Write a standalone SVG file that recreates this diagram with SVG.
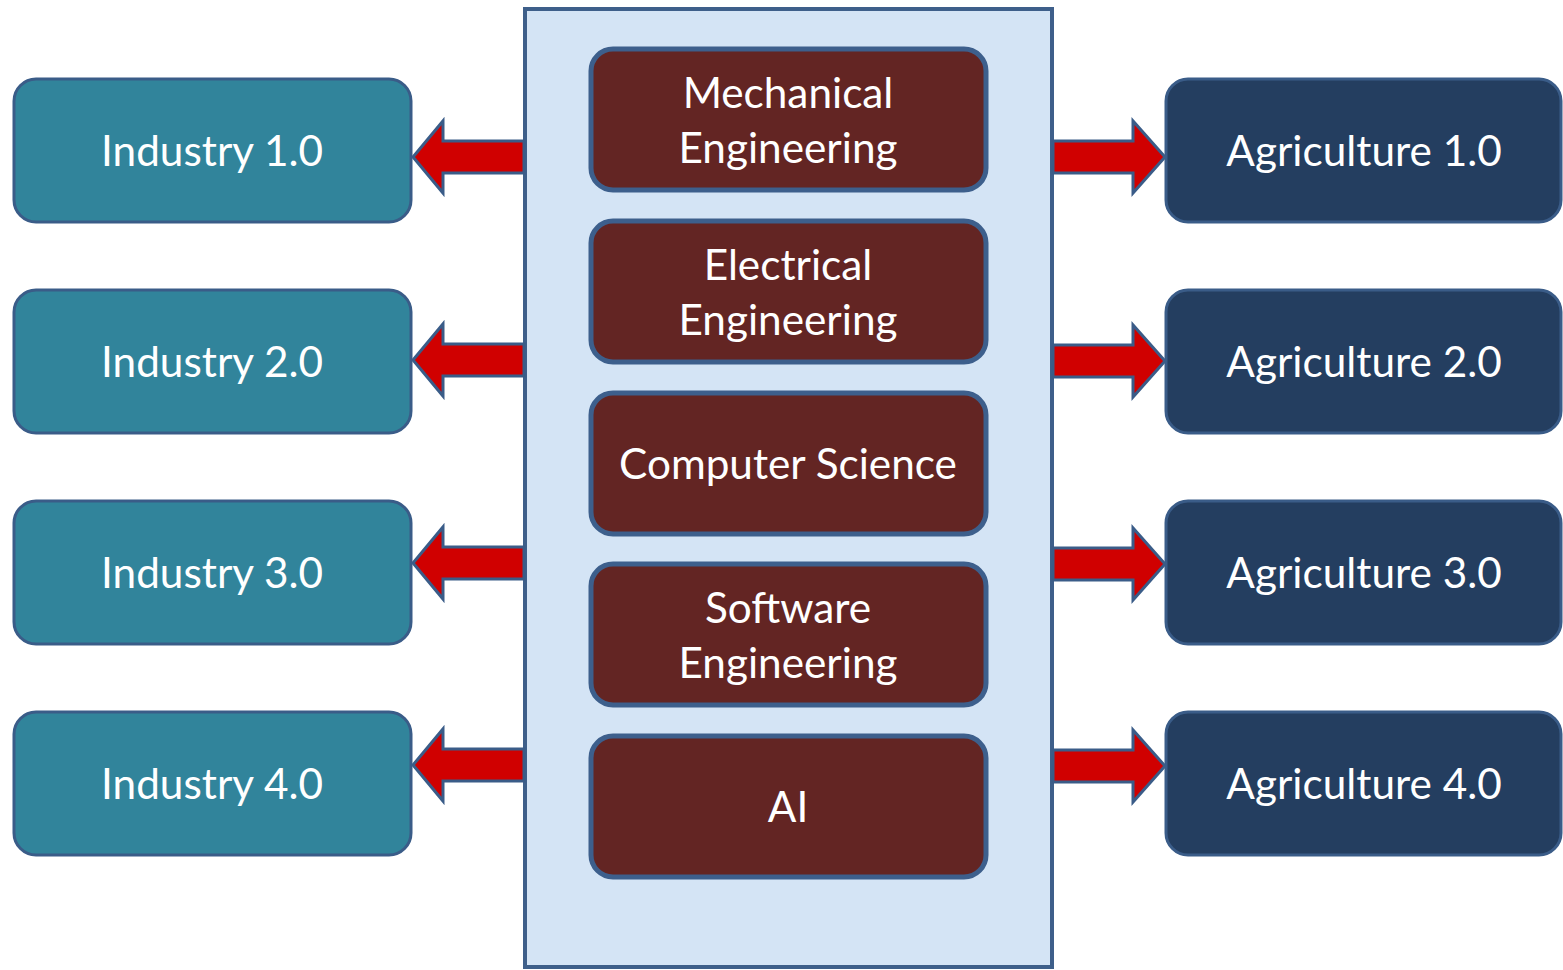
<svg xmlns="http://www.w3.org/2000/svg" width="1563" height="970" viewBox="0 0 1563 970">
<style>
.ind{fill:#31849b;stroke:#3a5c88;stroke-width:3}
.agr{fill:#243e60;stroke:#3a5c88;stroke-width:3}
.ctr{fill:#632523;stroke:#3d5f8c;stroke-width:5}
.box{fill:#d4e4f5;stroke:#3e5f8a;stroke-width:4}
.arr{fill:#d00000;stroke:#3a5c88;stroke-width:3;stroke-linejoin:miter}
text{font-family:Lato,"Liberation Sans",sans-serif;font-size:42.3px;fill:#ffffff;text-anchor:middle}
</style>
<rect width="1563" height="970" fill="#ffffff"/>
<g id="center-box"><rect class="box" x="525" y="9" width="527" height="958"/></g>
<g id="connectors">
<path class="arr" d="M524,141 L443,141 L443,121 L413,157 L443,193 L443,173 L524,173 Z"/>
<path class="arr" d="M524,344 L443,344 L443,324 L413,360 L443,396 L443,376 L524,376 Z"/>
<path class="arr" d="M524,547 L443,547 L443,527 L413,563 L443,599 L443,579 L524,579 Z"/>
<path class="arr" d="M524,749 L443,749 L443,729 L413,765 L443,801 L443,781 L524,781 Z"/>
<path class="arr" d="M1053,141 L1133,141 L1133,121 L1165,157 L1133,193 L1133,173 L1053,173 Z"/>
<path class="arr" d="M1053,345 L1133,345 L1133,325 L1165,361 L1133,397 L1133,377 L1053,377 Z"/>
<path class="arr" d="M1053,548 L1133,548 L1133,528 L1165,564 L1133,600 L1133,580 L1053,580 Z"/>
<path class="arr" d="M1053,750 L1133,750 L1133,730 L1165,766 L1133,802 L1133,782 L1053,782 Z"/>
</g>
<g id="industry1"><rect class="ind" x="14" y="79" width="397" height="143" rx="22"/><text x="212" y="166">Industry 1.0</text></g>
<g id="industry2"><rect class="ind" x="14" y="290" width="397" height="143" rx="22"/><text x="212" y="377">Industry 2.0</text></g>
<g id="industry3"><rect class="ind" x="14" y="501" width="397" height="143" rx="22"/><text x="212" y="588">Industry 3.0</text></g>
<g id="industry4"><rect class="ind" x="14" y="712" width="397" height="143" rx="22"/><text x="212" y="799">Industry 4.0</text></g>
<g id="agriculture1"><rect class="agr" x="1166" y="79" width="395" height="143" rx="22"/><text x="1364" y="166">Agriculture 1.0</text></g>
<g id="agriculture2"><rect class="agr" x="1166" y="290" width="395" height="143" rx="22"/><text x="1364" y="377">Agriculture 2.0</text></g>
<g id="agriculture3"><rect class="agr" x="1166" y="501" width="395" height="143" rx="22"/><text x="1364" y="588">Agriculture 3.0</text></g>
<g id="agriculture4"><rect class="agr" x="1166" y="712" width="395" height="143" rx="22"/><text x="1364" y="799">Agriculture 4.0</text></g>
<g id="mechanical"><rect class="ctr" x="591" y="49" width="395" height="141" rx="22"/><text x="788" y="108">Mechanical</text><text x="788" y="163">Engineering</text></g>
<g id="electrical"><rect class="ctr" x="591" y="221" width="395" height="141" rx="22"/><text x="788" y="280">Electrical</text><text x="788" y="335">Engineering</text></g>
<g id="computer-science"><rect class="ctr" x="591" y="393" width="395" height="141" rx="22"/><text x="788" y="479">Computer Science</text></g>
<g id="software"><rect class="ctr" x="591" y="564" width="395" height="141" rx="22"/><text x="788" y="623">Software</text><text x="788" y="678">Engineering</text></g>
<g id="ai"><rect class="ctr" x="591" y="736" width="395" height="141" rx="22"/><text x="788" y="822">AI</text></g>
</svg>
